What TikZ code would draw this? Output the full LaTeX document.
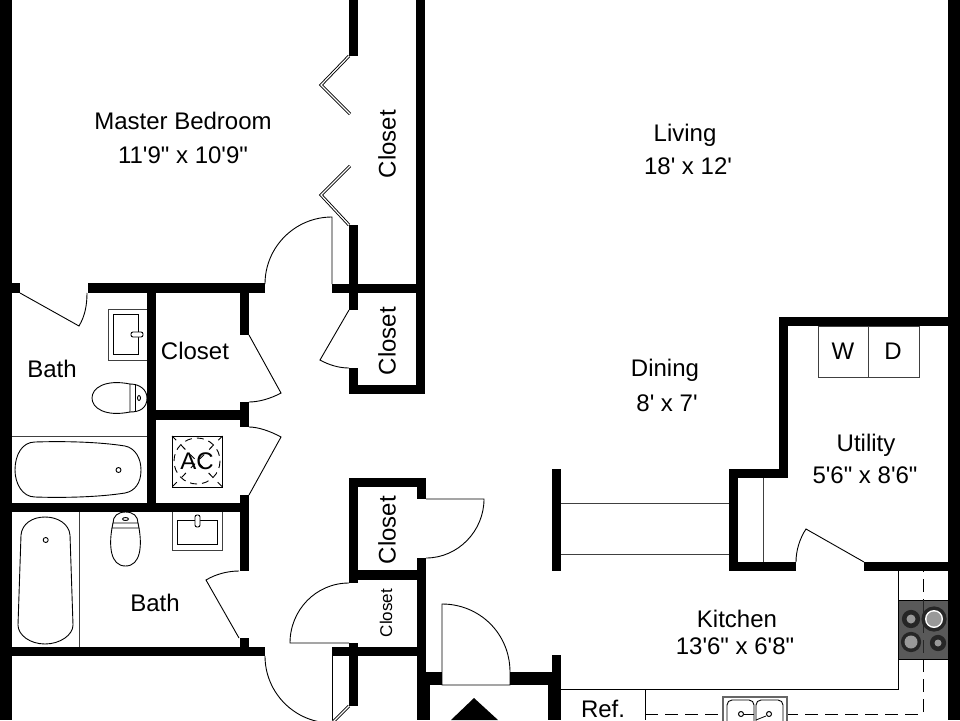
\documentclass[tikz,border=0pt]{standalone}
\usepackage{fontspec}
\setmainfont{Liberation Sans}[Ligatures=TeXOff]

\begin{document}
\begin{tikzpicture}[x=1pt,y=-1pt,
	wall/.style={fill=black},
	door/.style={draw, line width=.9pt},
	fixture/.style={draw, line width=.9pt, fill=white},
	thinline/.style={draw=black!75, line width=.9pt},
	bifold/.style={draw, double=white, double distance=1.2pt, line width=.9pt},
	room/.style={font=\fontsize{24}{28}\selectfont, inner sep=0pt},
	burner/.style={draw=black!85, line width=1.2pt, fill=black!85},
	burnercore/.style={fill=black!40}]
	\useasboundingbox (0,0) rectangle (960,720);

	% walls
	\fill[wall] (0,0) rectangle (12,720);
	\fill[wall] (948,0) rectangle (960,720);
	\fill[wall] (416,0) rectangle (425,394);
	\fill[wall] (349,385) rectangle (425,394);
	\fill[wall] (349,0) rectangle (358,56);
	\fill[wall] (349,225) rectangle (358,310);
	\fill[wall] (349,368) rectangle (358,394);
	\fill[wall] (332,284) rectangle (425,293);
	\fill[wall] (88,283) rectangle (265,293);
	\fill[wall] (12,283) rectangle (20,293);
	\fill[wall] (147,283) rectangle (156,512);
	\fill[wall] (240,283) rectangle (249,335);
	\fill[wall] (240,402) rectangle (249,427);
	\fill[wall] (147,410) rectangle (249,420);
	\fill[wall] (240,495) rectangle (249,571);
	\fill[wall] (12,503) rectangle (249,512);
	\fill[wall] (240,638) rectangle (249,656);
	\fill[wall] (12,647) rectangle (265,656);
	\fill[wall] (349,478) rectangle (358,583);
	\fill[wall] (349,478) rectangle (426,487);
	\fill[wall] (417,478) rectangle (426,499);
	\fill[wall] (417,558) rectangle (426,720);
	\fill[wall] (349,570) rectangle (426,580);
	\fill[wall] (332,647) rectangle (426,656);
	\fill[wall] (349,643) rectangle (358,706);
	\fill[wall] (420,672) rectangle (442,685);
	\fill[wall] (420,685) rectangle (430,720);
	\fill[wall] (510,672) rectangle (561,685);
	\fill[wall] (548,672) rectangle (561,720);
	\fill[wall] (552,655) rectangle (561,672);
	\fill[wall] (552,469) rectangle (561,571);
	\fill[wall] (729,469) rectangle (738,571);
	\fill[wall] (729,469) rectangle (788,478);
	\fill[wall] (779,317) rectangle (788,478);
	\fill[wall] (779,317) rectangle (948,326);
	\fill[wall] (729,562) rectangle (796,571);
	\fill[wall] (864,562) rectangle (948,571);
	\fill[wall] (474,698) -- (498,720) -- (451,720) -- cycle;

	% bifold doors
	\draw[bifold] (349,56) -- (321,85) -- (350,114);
	\draw[bifold] (350,166) -- (321,195) -- (349,225);
	\draw[bifold] (349,706) -- (335,720) -- (325,730);

	% doors
	\draw[door] (20,293) -- (79,326) .. controls (85,316) and (87,305) .. (87,293);
	\draw[door] (249,335) -- (281,393) .. controls (270,399) and (258,402) .. (249,402);
	\draw[door] (249,495) -- (281,437) .. controls (270,431) and (258,427) .. (249,427);
	\draw[door] (239,638) -- (206,580) .. controls (216,574) and (228,571) .. (239,571);
	\draw[door] (332,284) -- (332,217) .. controls (295,217) and (265,247) .. (265,284);
	\draw[door] (349,310) -- (320,360) .. controls (329,365) and (339,368) .. (349,368);
	\draw[door] (426,499) -- (484,499) .. controls (484,531) and (458,558) .. (426,558);
	\draw[door] (349,643) -- (290,643) .. controls (290,610) and (316,583) .. (349,583);
	\draw[door] (510,685) -- (442,685) -- (442,604) .. controls (480,604) and (510,634) .. (510,672) -- cycle;
	\draw[door] (864,562) -- (806,529) .. controls (800,538) and (796,550) .. (796,562);
	\draw[door] (265,656) .. controls (265,693) and (295,723) .. (332,723);
	\draw[door] (332,656) -- (332,720);

	% utility and hall lines
	\draw[thinline] (561,503) -- (729,503);
	\draw[thinline] (561,554) -- (729,554);
	\draw[thinline] (763,478) -- (763,562);
	\draw[thinline] (818,326) rectangle (919,377);
	\draw[thinline] (868,326) -- (868,377);

	% kitchen counter
	\draw[door] (898,571) -- (898,689) -- (561,689);
	\draw[door] (645,689) -- (645,720);
	\draw[door, dash pattern=on 13pt off 7pt] (645,714) -- (923,714) -- (923,571);
	\fill[black!65] (898,600) rectangle (948,659);
	\draw[door] (898,600) rectangle (948,659);
	\draw[door, black!85, dash pattern=on 13pt off 7pt] (923,600) -- (923,659);
	\draw[burner] (911,619) circle (8.5);
	\fill[burnercore] (911,619) circle (4.5);
	\draw[burner] (934,619) circle (12);
	\fill[white] (934,619) circle (9);
	\fill[burnercore] (934,619) circle (7.5);
	\draw[burner] (911,642) circle (9.5);
	\fill[burnercore] (911,642) circle (6.5);
	\draw[burner] (938,643) circle (7.5);
	\fill[burnercore] (938,643) circle (3.5);

	% sink
	\draw[fixture, draw=black!60, line width=1.5pt] (723,697) rectangle (787,730);
	\draw[fixture, rounded corners=5pt] (727,700) rectangle (754,730);
	\draw[fixture, rounded corners=5pt] (756,700) rectangle (783,730);
	\draw[line width=1pt] (741,714) circle (2.5);
	\draw[line width=1pt] (769,714) circle (2.5);
	\draw[line width=.8pt] (744,714) -- (754,714);
	\draw[line width=.8pt] (756,720) -- (766,716);

	% master bath
	\draw[thinline] (147,309) -- (108,309) -- (108,360) -- (147,360);
	\draw[door] (113,314) rectangle (138,354);
	\draw[fixture, rounded corners=2pt] (131,332) rectangle (143,337);
	\draw[door] (130,384) .. controls (105,379) and (92,388) .. (92,398) .. controls (92,408) and (105,417) .. (130,412) -- cycle;
	\draw[door] (135,384) -- (135,412);
	\draw[door] (130,412) .. controls (140,412) and (147,408) .. (147,398) .. controls (147,390) and (140,384) .. (130,384);
	\draw[door] (139,398) ellipse (1.5 and 2.5);
	\draw[thinline] (12,436) -- (147,436);
	\draw[door] (35,442) .. controls (65,441) and (100,442) .. (125,446) .. controls (135,448) and (141,458) .. (141,470) .. controls (141,483) and (135,491) .. (125,493) .. controls (100,497) and (65,498) .. (35,497) .. controls (22,497) and (15,483) .. (15,470) .. controls (15,455) and (22,442) .. (35,442) -- cycle;
	\draw[door] (118.5,470) circle (2.5);

	% hall bath
	\draw[thinline] (79,512) -- (79,647);
	\draw[door] (45,517) .. controls (58,517) and (69,524) .. (70,535) -- (73,625) .. controls (73,635) and (60,644) .. (45,644) .. controls (30,644) and (18,635) .. (18,625) -- (21,535) .. controls (22,524) and (32,517) .. (45,517) -- cycle;
	\draw[door] (45.7,540) circle (2.5);
	\draw[door] (113,523) .. controls (113,516) and (118,512) .. (125.5,512) .. controls (133,512) and (138,516) .. (138,523) -- cycle;
	\draw[door] (113,523) -- (112,528) -- (139,528) -- (138,523);
	\draw[door] (125.5,519) ellipse (3 and 1.5);
	\draw[door] (112,528) .. controls (109,545) and (110,566) .. (125.5,566) .. controls (141,566) and (142,545) .. (139,528);
	\draw[thinline] (172,512) -- (172,550) -- (222.5,550) -- (222.5,512);
	\draw[door] (177,520.5) rectangle (217,544.5);
	\draw[fixture, rounded corners=2pt] (195,515) rectangle (200,527);

	% ac unit
	\draw[door] (172,436) rectangle (222.5,487);
	\draw[door, dash pattern=on 7pt off 5pt] (197,461) circle (23);
	\draw[door, dash pattern=on 6pt off 7pt] (172,436) -- (222.5,487);
	\draw[door, dash pattern=on 6pt off 7pt] (222.5,436) -- (172,487);

	% labels
	\node[room] (bedroom) at (183,121) {Master Bedroom};
	\node[room] (bedroomsize) at (183,155) {11'9" x 10'9"};
	\node[room] (living) at (685,135) {Living};
	\node[room] (livingsize) at (688,166) {18' x 12'};
	\node[room] (dining) at (665,370) {Dining};
	\node[room] (diningsize) at (667,403) {8' x 7'};
	\node[room] (utility) at (866,445) {Utility};
	\node[room] (utilitysize) at (865,475) {5'6" x 8'6"};
	\node[room] (kitchen) at (737,619) {Kitchen};
	\node[room] (kitchensize) at (735,646) {13'6" x 6'8"};
	\node[room, anchor=base] (ref) at (603,717) {Ref.};
	\node[room] (washer) at (843,351) {W};
	\node[room] (dryer) at (893,351) {D};
	\node[room] (ac) at (197,461) {AC};
	\node[room] (bathone) at (52,369) {Bath};
	\node[room] (bathtwo) at (155,603) {Bath};
	\node[room] (closetone) at (195,351) {Closet};
	\node[room, rotate=90] (closettwo) at (387,144) {Closet};
	\node[room, rotate=90] (closetthree) at (387,341) {Closet};
	\node[room, rotate=90] (closetfour) at (387,530) {Closet};
	\node[room, rotate=90, font=\fontsize{17}{20}\selectfont] (closetfive) at (386,613) {Closet};
\end{tikzpicture}
\end{document}
